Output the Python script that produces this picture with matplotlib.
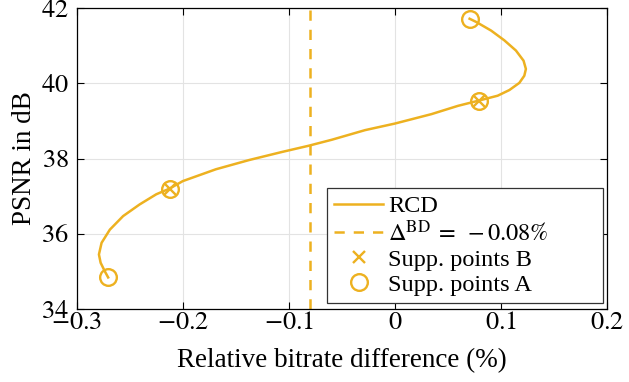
import numpy as np
import matplotlib.pyplot as plt

plt.rcParams['font.family'] = ['Liberation Serif', 'DejaVu Serif']
plt.rcParams['mathtext.fontset'] = 'stix'

# RCD curve (bitrate diff in %, PSNR in dB)
rcdX = [0.0704, 0.0766, 0.0907, 0.1032, 0.1141, 0.1213, 0.1235, 0.1220, 0.1173,
        0.1079, 0.0969, 0.0791, 0.0594, 0.0344, 0.0, -0.0282, -0.0595, -0.0814,
        -0.1064, -0.1376, -0.1689, -0.2002, -0.2127, -0.2252, -0.2409, -0.2565,
        -0.2690, -0.2768, -0.2793, -0.2777, -0.2737, -0.2706]
rcdY = [41.715, 41.63, 41.40, 41.14, 40.87, 40.60, 40.38, 40.20, 40.01,
        39.82, 39.67, 39.54, 39.40, 39.18, 38.93, 38.755, 38.50, 38.34,
        38.176, 37.96, 37.715, 37.40, 37.20, 37.05, 36.78, 36.47,
        36.11, 35.76, 35.45, 35.23, 35.00, 34.84]

suppAX = [0.0704, 0.0791, -0.2127, -0.2706]
suppAY = [41.715, 39.54, 37.20, 34.84]
suppBX = [0.0791, -0.2127]
suppBY = [39.54, 37.20]

deltaBD = -0.08

xTicks = [-0.3, -0.2, -0.1, 0, 0.1, 0.2]
xTickLabels = ['$-0.3$', '$-0.2$', '$-0.1$', '$0$', '$0.1$', '$0.2$']
yTicks = [34, 36, 38, 40, 42]

col = '#EDB120'

fig = plt.figure(figsize=(6.29, 3.82), dpi=100)
ax = fig.add_axes([0.1224, 0.191, 0.8426, 0.788])

ax.plot(rcdX, rcdY, color=col, lw=1.8, label='RCD')
ax.axvline(deltaBD, color=col, lw=1.8, ls=(0, (4.1, 3.6)),
           label=r'$\Delta^{\mathrm{BD}}\;=\;-0.08\%$')
ax.plot(suppBX, suppBY, ls='none', marker='x', color=col, ms=9, mew=1.7,
        label='Supp. points B')
ax.plot(suppAX, suppAY, ls='none', marker='o', mfc='none', mec=col, ms=12, mew=1.7,
        label='Supp. points A')

ax.set_xlim(-0.3, 0.2)
ax.set_ylim(34, 42)
ax.set_xticks(xTicks)
ax.set_xticklabels(xTickLabels)
ax.set_yticks(yTicks)
ax.set_yticklabels(['$%d$' % t for t in yTicks])
ax.tick_params(direction='in', top=True, right=True, labelsize=19, length=5)
ax.tick_params(axis='x', pad=2)
ax.tick_params(axis='y', pad=6)
ax.grid(True, color='#e3e3e3', lw=0.8)
ax.set_axisbelow(True)
for s in ax.spines.values():
    s.set_linewidth(0.9)

ax.set_xlabel('Relative bitrate difference (%)', fontsize=19.5, labelpad=10)
ax.set_ylabel('PSNR in dB', fontsize=19.5, labelpad=3)

leg = ax.legend(loc='lower left', bbox_to_anchor=(0.472, 0.02, 0.521, 0.37),
                mode='expand', fontsize=17.5,
                fancybox=False, edgecolor='#333333', framealpha=1,
                handlelength=2.0, labelspacing=0.12, borderpad=0.3,
                handletextpad=0.2, borderaxespad=0)
leg.get_frame().set_linewidth(0.9)

fig.savefig('out.png', dpi=100)
